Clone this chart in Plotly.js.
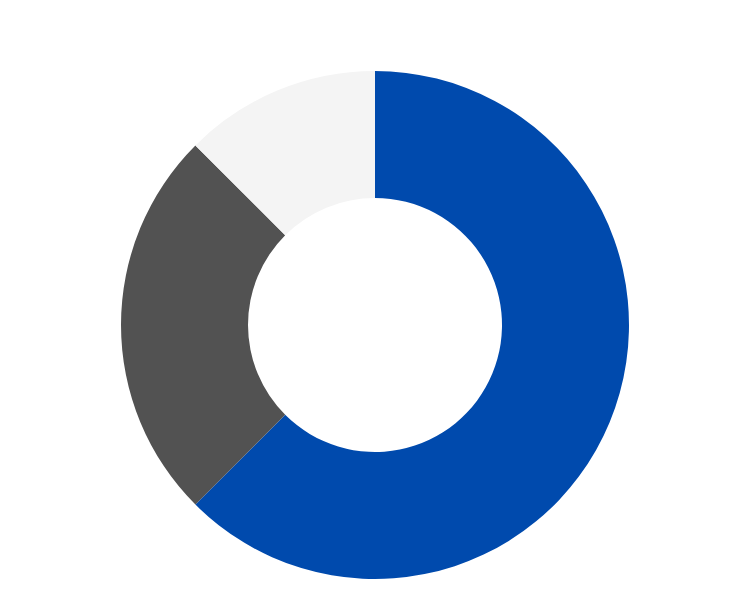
<!DOCTYPE html>
<html>
<head>
<meta charset="utf-8">
<script src="https://cdn.plot.ly/plotly-3.0.1.min.js"></script>
<style>
  html, body { margin: 0; padding: 0; background: #fff; }
  #myDiv { width: 731px; height: 605px; }
</style>
</head>
<body>
<div id="myDiv"></div>
<script>
// slice names and shares (5/8, 2/8, 1/8)
let labels = ['A', 'B', 'C']
let values = [62.5, 25, 12.5]
let colors = ['#004aad', '#525252', '#f4f4f4']

var trace = {
  type: 'pie',
  labels: labels,
  values: values,
  hole: 0.5,
  sort: false,
  direction: 'clockwise',
  rotation: 0,
  textinfo: 'none',
  hoverinfo: 'label+percent',
  marker: { colors: colors, line: { width: 0 } }
};

Plotly.newPlot('myDiv', [trace], {
  width: 731,
  height: 605,
  showlegend: false,
  margin: { l: 19, r: 0, t: 71, b: 26 },
  paper_bgcolor: '#fff'
}, { displayModeBar: false });
</script>
</body>
</html>
